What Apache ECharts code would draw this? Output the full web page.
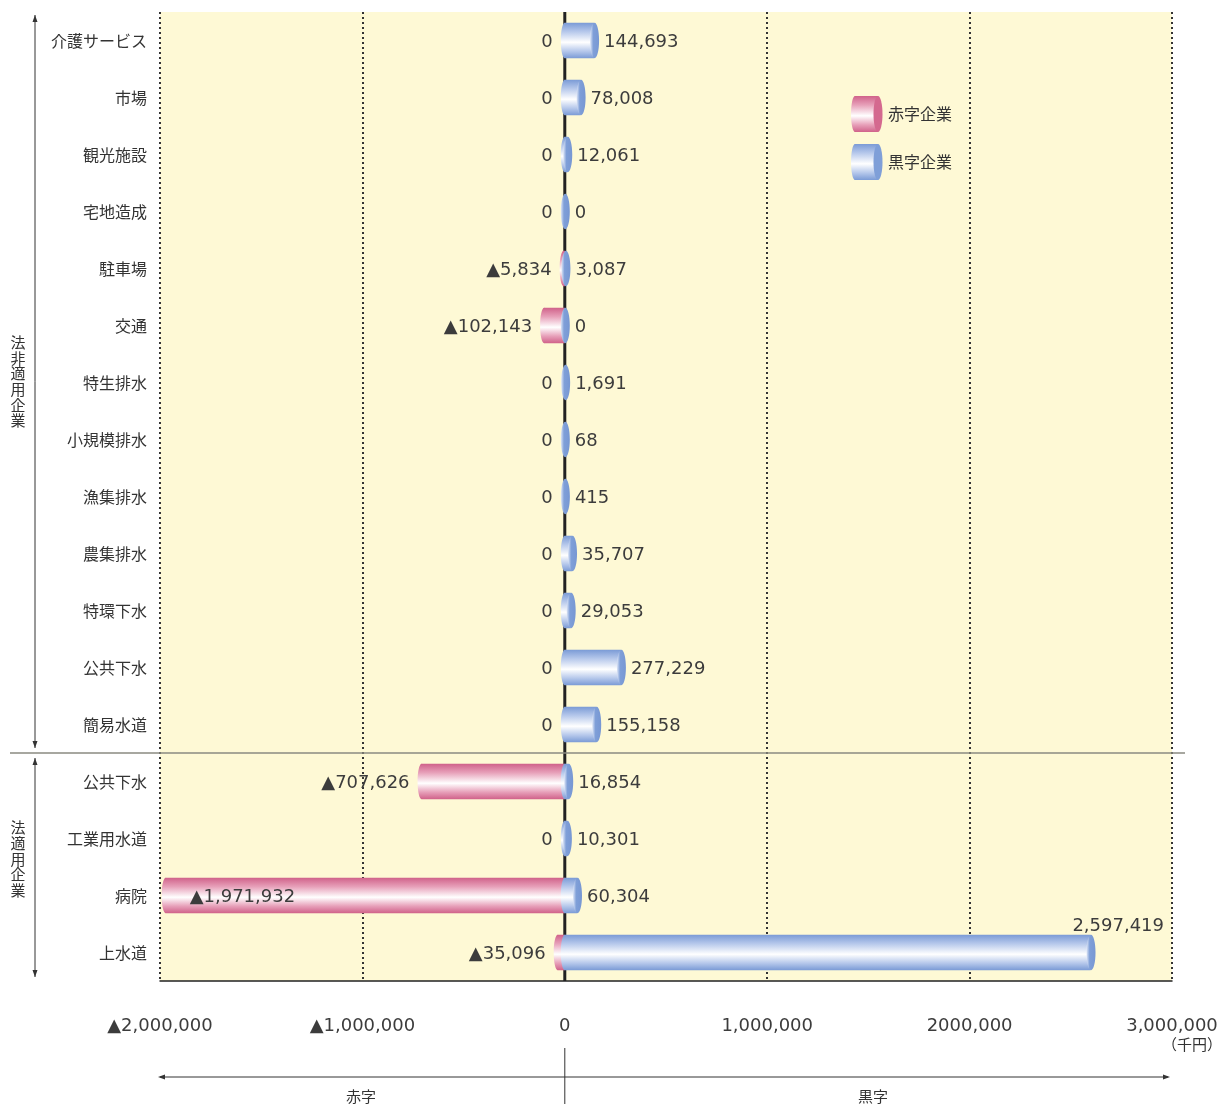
<!DOCTYPE html>
<html>
<head>
<meta charset="utf-8">
<script src="https://cdn.jsdelivr.net/npm/echarts@6/dist/echarts.min.js"></script>
<style>
  html, body { margin: 0; background: #fff; }
  #main { width: 1229px; height: 1104px; }
</style>
</head>
<body>
<div id="main"></div>
<script>
// 事業別 赤字・黒字（千円）
const categories = ['介護サービス', '市場', '観光施設', '宅地造成', '駐車場', '交通', '特生排水', '小規模排水', '漁集排水', '農集排水', '特環下水', '公共下水', '簡易水道', '公共下水', '工業用水道', '病院', '上水道'];
const deficitValues = [0, 0, 0, 0, -5834, -102143, 0, 0, 0, 0, 0, 0, 0, -707626, 0, -1971932, -35096];
const surplusValues = [144693, 78008, 12061, 0, 3087, 0, 1691, 68, 415, 35707, 29053, 277229, 155158, 16854, 10301, 60304, 2597419];
const tickValues = [-2000000, -1000000, 0, 1000000, 2000000, 3000000];
const tickLabels = ['▲2,000,000', '▲1,000,000', '0', '1,000,000', '2000,000', '3,000,000'];
const groupNames = ['法非適用企業', '法適用企業'];
const groupSizes = [13, 4];

const NUM_FONT = 'DejaVu Sans';
const JP_FONT = '"Noto Sans CJK JP", "Noto Sans CJK SC", sans-serif';
const TEXT_COLOR = '#3c3c3c';

const palette = {
  red: { edge: '#d0628a', mid: '#e7a0b9', cap: '#d4698f' },
  blue: { edge: '#7b9bd6', mid: '#b6c8eb', cap: '#7f9fd8' }
};

function bodyGrad(kind) {
  const c = palette[kind];
  return new echarts.graphic.LinearGradient(0, 0, 0, 1, [
    { offset: 0, color: c.edge },
    { offset: 0.25, color: c.mid },
    { offset: 0.55, color: '#ffffff' },
    { offset: 0.8, color: c.mid },
    { offset: 1, color: c.edge }
  ]);
}

function fmt(v) {
  return Math.abs(v).toLocaleString('en-US');
}

function numText(x, y, text, align) {
  return {
    type: 'text', x: x, y: y + 2,
    style: {
      text: text, fill: TEXT_COLOR, fontSize: 18, fontFamily: NUM_FONT,
      align: align, verticalAlign: 'middle', textAlign: align, textVerticalAlign: 'middle'
    }
  };
}

// 0 の基準線（棒の下に描く）
function renderZeroLine(params, api) {
  const cs = params.coordSys;
  const x = api.coord([0, 0])[0];
  return {
    type: 'line',
    shape: { x1: x, y1: cs.y, x2: x, y2: cs.y + cs.height },
    style: { stroke: '#222', lineWidth: 3 }
  };
}

function renderDeficit(params, api) {
  const v = api.value(0), ci = api.value(1);
  const a = api.coord([0, ci]), b = api.coord([v, ci]);
  const h = api.size([0, 1])[1] * 0.62;
  const cy = a[1];
  const children = [];
  if (v < 0) {
    children.push({ type: 'ellipse', shape: { cx: b[0], cy: cy, rx: 4, ry: h / 2 }, style: { fill: bodyGrad('red') } });
    children.push({ type: 'rect', shape: { x: b[0], y: cy - h / 2, width: a[0] - b[0], height: h }, style: { fill: bodyGrad('red') } });
  }
  const label = v < 0 ? '▲' + fmt(v) : '0';
  const left = params.coordSys.x;
  if (b[0] - left < 130) {
    children.push(numText(b[0] + 24, cy, label, 'left'));
  } else {
    children.push(numText(b[0] - 12, cy, label, 'right'));
  }
  return { type: 'group', children: children };
}

function renderSurplus(params, api) {
  const v = api.value(0), ci = api.value(1);
  const a = api.coord([0, ci]), b = api.coord([v, ci]);
  const h = api.size([0, 1])[1] * 0.62;
  const cy = a[1];
  const children = [];
  if (b[0] - a[0] > 1) {
    children.push({ type: 'ellipse', shape: { cx: a[0], cy: cy, rx: 4, ry: h / 2 }, style: { fill: bodyGrad('blue') } });
    children.push({ type: 'rect', shape: { x: a[0], y: cy - h / 2, width: b[0] - a[0], height: h }, style: { fill: bodyGrad('blue') } });
  }
  children.push({
    type: 'ellipse', shape: { cx: b[0] + 0.5, cy: cy, rx: 4.5, ry: h / 2 },
    style: {
      fill: new echarts.graphic.LinearGradient(0, 0, 1, 0, [
        { offset: 0, color: '#dfe7f7' }, { offset: 0.35, color: palette.blue.cap }, { offset: 1, color: '#7797d3' }
      ])
    }
  });
  const right = params.coordSys.x + params.coordSys.width;
  if (right - b[0] < 150) {
    children.push(numText(right - 8, cy - 28, fmt(v), 'right'));
  } else {
    children.push(numText(b[0] + 10, cy, fmt(v), 'left'));
  }
  return { type: 'group', children: children };
}

const chart = echarts.init(document.getElementById('main'));
chart.setOption({
  backgroundColor: '#ffffff',
  animation: false,
  grid: { left: 160, right: 57, top: 12, bottom: 123, show: true, backgroundColor: '#fef9d5', borderWidth: 0 },
  xAxis: {
    type: 'value', min: -2000000, max: 3000000, interval: 1000000,
    axisLine: { show: true, onZero: false, lineStyle: { color: '#222', width: 1.5 } },
    axisTick: { show: false },
    axisLabel: {
      margin: 36, fontSize: 18, fontFamily: NUM_FONT, color: TEXT_COLOR,
      formatter: (v) => tickLabels[tickValues.indexOf(v)]
    },
    splitLine: { show: true, lineStyle: { color: '#333', width: 2, type: [2, 3] } }
  },
  yAxis: {
    type: 'category', data: categories, inverse: true,
    axisLine: { show: false }, axisTick: { show: false }, splitLine: { show: false },
    axisLabel: { interval: 0, margin: 13, fontSize: 16, fontFamily: JP_FONT, color: '#333' }
  },
  series: [
    { type: 'custom', z: 1, silent: true, renderItem: renderZeroLine, data: [[0, 0]] },
    { type: 'custom', name: '赤字企業', z: 3, renderItem: renderDeficit, data: deficitValues.map((v, i) => [v, i]) },
    { type: 'custom', name: '黒字企業', z: 4, renderItem: renderSurplus, data: surplusValues.map((v, i) => [v, i]) }
  ]
});

// 注記（区分ブラケット・凡例・赤字/黒字矢印）
function yOf(i) { return chart.convertToPixel({ gridIndex: 0 }, [0, i])[1]; }
function xOf(v) { return chart.convertToPixel({ gridIndex: 0 }, [v, 0])[0]; }
const step = yOf(1) - yOf(0);
const plotTop = yOf(0) - step / 2;
const plotBottom = yOf(categories.length - 1) + step / 2;
const sepY = plotTop + groupSizes[0] * step;
const xMin = xOf(tickValues[0]), xMax = xOf(tickValues[tickValues.length - 1]), x0 = xOf(0);
const lineStyle = { stroke: '#333', lineWidth: 1 };

function vArrow(x, y1, y2) {
  return [
    { type: 'line', shape: { x1: x, y1: y1, x2: x, y2: y2 }, style: lineStyle },
    { type: 'polygon', shape: { points: [[x, y1], [x - 2.5, y1 + 7], [x + 2.5, y1 + 7]] }, style: { fill: '#333' } },
    { type: 'polygon', shape: { points: [[x, y2], [x - 2.5, y2 - 7], [x + 2.5, y2 - 7]] }, style: { fill: '#333' } }
  ];
}
function vText(x, y, s) {
  return {
    type: 'text', x: x, y: y,
    style: {
      text: s.split('').join('\n'), fill: '#333', fontSize: 15, lineHeight: 15.7, fontFamily: JP_FONT,
      align: 'center', verticalAlign: 'middle', textAlign: 'center', textVerticalAlign: 'middle'
    }
  };
}
function jpText(x, y, s, align, size) {
  return {
    type: 'text', x: x, y: y,
    style: {
      text: s, fill: '#333', fontSize: size, fontFamily: JP_FONT,
      align: align, verticalAlign: 'middle', textAlign: align, textVerticalAlign: 'middle'
    }
  };
}
function legendIcon(x, y, kind) {
  const h = 36, w = 27;
  return [
    { type: 'ellipse', shape: { cx: x + 4, cy: y + h / 2, rx: 4, ry: h / 2 }, style: { fill: bodyGrad(kind) } },
    { type: 'rect', shape: { x: x + 4, y: y, width: w - 4, height: h }, style: { fill: bodyGrad(kind) } },
    { type: 'ellipse', shape: { cx: x + w, cy: y + h / 2, rx: 4.5, ry: h / 2 }, style: { fill: palette[kind].cap } }
  ];
}

const g = [];
g.push({ type: 'line', shape: { x1: 10, y1: sepY, x2: 1185, y2: sepY }, style: { stroke: '#8a8a80', lineWidth: 1.5 } });
g.push(...vArrow(35, plotTop + 3, sepY - 5));
g.push(...vArrow(35, sepY + 5, plotBottom - 4));
g.push(vText(18, (plotTop + sepY) / 2 - 1, groupNames[0]));
g.push(vText(18, (sepY + plotBottom) / 2 - 8, groupNames[1]));
g.push(...legendIcon(851, 96, 'red'));
g.push(...legendIcon(851, 144, 'blue'));
g.push(jpText(888, 114, '赤字企業', 'left', 16));
g.push(jpText(888, 162, '黒字企業', 'left', 16));
// 単位
g.push(jpText(xMax + 50, 1044, '（千円）', 'right', 15));
// 赤字 ← | → 黒字
const ay = 1077;
g.push({ type: 'line', shape: { x1: xMin, y1: ay, x2: xMax - 4, y2: ay }, style: lineStyle });
g.push({ type: 'polygon', shape: { points: [[xMin - 2, ay], [xMin + 5, ay - 2.5], [xMin + 5, ay + 2.5]] }, style: { fill: '#333' } });
g.push({ type: 'polygon', shape: { points: [[xMax - 2, ay], [xMax - 9, ay - 2.5], [xMax - 9, ay + 2.5]] }, style: { fill: '#333' } });
g.push({ type: 'line', shape: { x1: x0, y1: 1048, x2: x0, y2: 1104 }, style: lineStyle });
g.push(jpText(361, 1096, '赤字', 'center', 15));
g.push(jpText(873, 1096, '黒字', 'center', 15));

chart.setOption({ graphic: g.map((e) => Object.assign({ z: 10 }, e)) });
</script>
</body>
</html>
